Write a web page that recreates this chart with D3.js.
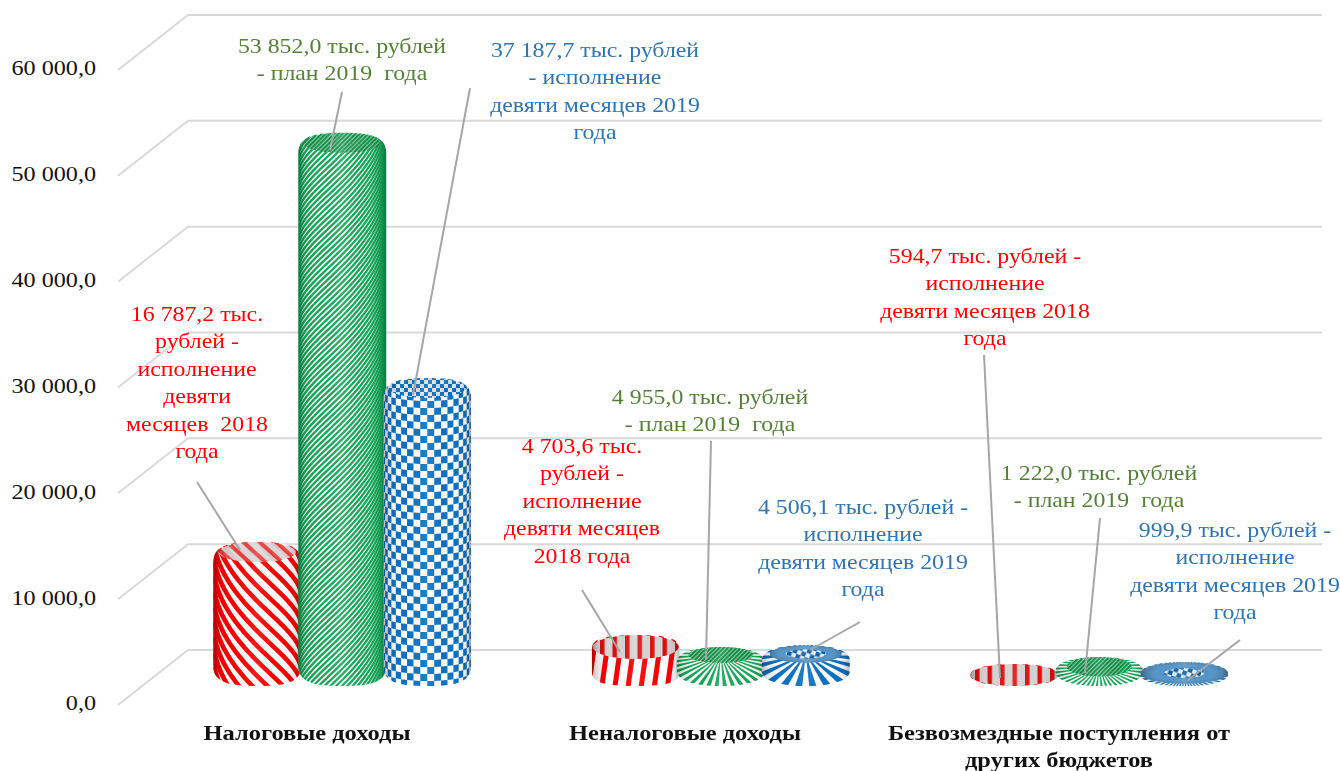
<!DOCTYPE html>
<html><head><meta charset="utf-8"><script src="https://cdn.jsdelivr.net/npm/d3@7"></script>
<style>html,body{margin:0;background:#fff}svg{display:block}text{font-family:"Liberation Serif",serif}</style></head>
<body><svg id="c" width="1340" height="771"></svg>
<script>
const categories=["Налоговые доходы","Неналоговые доходы","Безвозмездные поступления от другие"];
const seriesNames=["2018","plan","2019"];
const values2018=[13600,4820,2080];
const valuesPlan=[52270,3690,2740];
const values2019=[29100,3875,2270];
const tickValues=[0,10000,20000,30000,40000,50000,60000];
const seriesColors=["#ff0000","#14a858","#0b72c4"];
const textColors=["#ff0000","#548235","#2e75b6"];
const annotations=[
 {s:0,c:0,cx:197,y:314,lines:["16 787,2 тыс.","рублей -","исполнение","девяти","месяцев  2018","года"],from:[197,482],to:[240,550]},
 {s:1,c:0,cx:342,y:46,lines:["53 852,0 тыс. рублей","- план 2019  года"],from:[342,92],to:[330,150]},
 {s:2,c:0,cx:595,y:50,lines:["37 187,7 тыс. рублей","- исполнение","девяти месяцев 2019","года"],from:[470,88],to:[413,395]},
 {s:0,c:1,cx:582,y:446,lines:["4 703,6 тыс.","рублей -","исполнение","девяти месяцев","2018 года"],from:[582,590],to:[620,652]},
 {s:1,c:1,cx:710,y:397,lines:["4 955,0 тыс. рублей","- план 2019  года"],from:[711,441],to:[706,660]},
 {s:2,c:1,cx:863,y:507,lines:["4 506,1 тыс. рублей -","исполнение","девяти месяцев 2019","года"],from:[860,622],to:[810,650]},
 {s:0,c:2,cx:985,y:256,lines:["594,7 тыс. рублей -","исполнение","девяти месяцев 2018","года"],from:[984,355],to:[1000,678]},
 {s:1,c:2,cx:1099,y:473,lines:["1 222,0 тыс. рублей","- план 2019  года"],from:[1100,518],to:[1085,673]},
 {s:2,c:2,cx:1235,y:530,lines:["999,9 тыс. рублей -","исполнение","девяти месяцев 2019","года"],from:[1240,640],to:[1188,680]}
];
const categoryLabels=[{x:307,lines:["Налоговые доходы"]},{x:685,lines:["Неналоговые доходы"]},{x:1059,lines:["Безвозмездные поступления от","других бюджетов"]}];

const svg=d3.select("#c"),defs=svg.append("defs");
const SX=1.135;
const y=d3.scaleLinear().domain([0,60000]).range([705,70]);
const depthX=70,depthY=55,baseDrop=19;
const x0=d3.scaleBand().domain(categories).range([153,1288.5]);
const x1=d3.scalePoint().domain(seriesNames).range([-85,85]);
const fmt=d3.formatLocale({decimal:",",thousands:" ",grouping:[3],currency:["",""]}).format(",.1f");

svg.append("g").selectAll("path").data(tickValues).join("path")
 .attr("d",v=>`M118,${y(v)}L${118+depthX},${y(v)-depthY}H1322`)
 .attr("fill","none").attr("stroke","#d9d9d9").attr("stroke-width",2);

const ax=svg.append("g").attr("transform","translate(96,-2)").call(d3.axisLeft(y).tickValues(tickValues).tickSize(0).tickPadding(0).tickFormat(fmt));
ax.select(".domain").remove();
ax.selectAll("text").attr("x",0).attr("dy","0.33em").attr("font-size",21).attr("fill","#111").attr("font-family","Liberation Serif").attr("transform","scale(1.15,1)");

function pat(id,w,h,rot,draw,bg){
 const p=defs.append("pattern").attr("id",id).attr("patternUnits","userSpaceOnUse").attr("width",w).attr("height",h);
 if(rot)p.attr("patternTransform",`rotate(${rot})`);
 p.append("rect").attr("width",w).attr("height",h).attr("fill",bg||"#fff");
 draw(p);
}
const rect=(p,x,y,w,h,f)=>p.append("rect").attr("x",x).attr("y",y).attr("width",w).attr("height",h).attr("fill",f);
pat("d0",13,10,8,p=>rect(p,0,0,5,10,"#ff0000"));
pat("c0",12.5,10,0,p=>rect(p,0,0,4.5,10,"#e01010"),"#d6d6d6");
pat("c1",3,3,45,p=>rect(p,0,0,1.9,3,"#0c8a42"),"#8fd0a8");
pat("c2",9,9,20,p=>{rect(p,0,0,4.5,4.5,"#0b5fa8");rect(p,4.5,4.5,4.5,4.5,"#0b5fa8");},"#e8f0f8");
pat("ct0",11,11,-48,p=>rect(p,0,0,4,11,"#f04040"),"#d9d9d9");
pat("ct2",8,8,0,p=>{rect(p,0,0,4,4,"#0b6ab8");rect(p,4,4,4,4,"#0b6ab8");},"#dfe8f2");

const shade=defs.append("linearGradient").attr("id","shade");
[[0,"#000",.28],[.07,"#000",.1],[.2,"#000",0],[.5,"#fff",.1],[.8,"#000",0],[.93,"#000",.08],[1,"#000",.26]].forEach(s=>shade.append("stop").attr("offset",s[0]).attr("stop-color",s[1]).attr("stop-opacity",s[2]));
const capBlue=defs.append("radialGradient").attr("id","capBlue");
[[0,"#3f8dcf"],[.7,"#5b97c8"],[1,"#4f88b6"]].forEach(s=>capBlue.append("stop").attr("offset",s[0]).attr("stop-color",s[1]));
const bs=defs.append("filter").attr("id","soft").attr("x","-5%").attr("y","-5%").attr("width","110%").attr("height","110%");
bs.append("feGaussianBlur").attr("stdDeviation",.55);

const allValues=[values2018,valuesPlan,values2019];
const baseBottom=y(0)-baseDrop, RX=44;
const gBars=svg.append("g").attr("filter","url(#soft)");
function silhouette(cx,t,b,ry,k){
 const l=cx-RX,r=cx+RX;
 return `M${l},${t+ry}C${l},${t+ry*k} ${cx-RX*.72},${t} ${cx},${t}C${cx+RX*.72},${t} ${r},${t+ry*k} ${r},${t+ry}`+
 `L${r},${b-ry}C${r},${b-ry*k} ${cx+RX*.72},${b} ${cx},${b}C${cx-RX*.72},${b} ${l},${b-ry*k} ${l},${b-ry}Z`;
}
const thetas=d3.range(-Math.PI/2,Math.PI/2+.01,.08);
const helixLine=d3.line();
function helix(g,cx,t,b,spacing,dir,width,color){
 g.selectAll(null).data(d3.range(t-150,b+150,spacing)).join("path")
  .attr("d",y0=>helixLine(thetas.map(th=>[cx+RX*Math.sin(th),y0+dir*RX*th+14*Math.cos(th)])))
  .attr("fill","none").attr("stroke",color).attr("stroke-width",width);
}
function checker(g,cx,t,b,color){
 const dth=7/RX, cols=d3.range(Math.floor(-Math.PI/2/dth),Math.ceil(Math.PI/2/dth));
 const clampTh=v=>Math.max(-Math.PI/2,Math.min(Math.PI/2,v));
 const cells=[];
 cols.forEach(c=>d3.range(Math.floor((t-20)/7),Math.ceil(b/7)).forEach(r=>{if(((c+r)%2+2)%2===0)cells.push([c,r]);}));
 g.selectAll(null).data(cells).join("path").attr("fill",color).attr("d",([c,r])=>{
  const a=clampTh(c*dth),e=clampTh((c+1)*dth),bu=th=>9*Math.cos(th);
  return `M${cx+RX*Math.sin(a)},${r*7+bu(a)}L${cx+RX*Math.sin(e)},${r*7+bu(e)}L${cx+RX*Math.sin(e)},${r*7+7+bu(e)}L${cx+RX*Math.sin(a)},${r*7+7+bu(a)}Z`;
 });
}
function wedges(g,cx,cy,n,color){
 const R=120,dphi=2*Math.PI/n;
 g.selectAll(null).data(d3.range(n)).join("path").attr("fill",color).attr("d",i=>{
  const a=i*dphi+dphi/4,e=a+dphi/2;
  return `M${cx},${cy}L${cx+R*Math.sin(a)},${cy+R*.6*Math.cos(a)}L${cx+R*Math.sin(e)},${cy+R*.6*Math.cos(e)}Z`;
 });
}
categories.forEach((cat,ci)=>{
 seriesNames.forEach((sn,si)=>{
  const cx=x0(cat)+x0.bandwidth()/2+x1(sn);
  const t=y(allValues[si][ci])-baseDrop, b=baseBottom;
  const h=b-t, tall=h>70, pillow=!tall&&si>0||h<30;
  const ry=Math.min(tall?21:15,h/2), k=pillow?.5:.22;
  const id=`clip${ci}${si}`;
  defs.append("clipPath").attr("id",id).append("path").attr("d",silhouette(cx,t,b,ry,k));
  const g=gBars.append("g");
  const inner=g.append("g").attr("clip-path",`url(#${id})`);
  inner.append("rect").attr("x",cx-RX).attr("y",t).attr("width",2*RX).attr("height",h).attr("fill","#fff");
  if(tall){
   if(si===0)helix(inner,cx,t,b,15,1,4.6,seriesColors[0]);
   if(si===1)helix(inner,cx,t,b,5.6,-1,2.3,seriesColors[1]);
   if(si===2)checker(inner,cx,t,b,seriesColors[2]);
   const capRy=10, capFill=si===1?"url(#c1)":`url(#ct${si})`;
   inner.append("ellipse").attr("cx",cx).attr("cy",t+capRy).attr("rx",RX*.88).attr("ry",capRy).attr("fill",capFill).attr("opacity",.92);
  } else if(si===0){
   inner.append("rect").attr("x",cx-RX).attr("y",t).attr("width",2*RX).attr("height",h).attr("fill","url(#d0)");
   const flat=h<30, capRy=flat?ry:12;
   inner.append("ellipse").attr("cx",cx).attr("cy",t+capRy).attr("rx",flat?RX:RX*.98).attr("ry",capRy).attr("fill","url(#c0)");
  } else if(si===1){
   const capRy=h<30?ry*.6:7;
   wedges(inner,cx,t+capRy+1,h<30?44:40,seriesColors[1]);
   inner.append("ellipse").attr("cx",cx).attr("cy",t+capRy+1).attr("rx",RX*.74).attr("ry",capRy+1).attr("fill","url(#c1)");
  } else {
   const flat=h<30;
   wedges(inner,cx,t+(flat?ry:ry*.6),flat?44:24,seriesColors[2]);
   const cy=t+(flat?ry*.92:ry*.6);
   inner.append("ellipse").attr("cx",cx).attr("cy",cy).attr("rx",flat?RX:RX*.82).attr("ry",flat?ry*.9:ry*.58).attr("fill","url(#capBlue)");
   inner.append("ellipse").attr("cx",cx).attr("cy",cy).attr("rx",RX*.46).attr("ry",flat?ry*.4:ry*.3).attr("fill","url(#c2)");
  }
  inner.append("rect").attr("x",cx-RX).attr("y",t).attr("width",2*RX).attr("height",h).attr("fill","url(#shade)");
 });
});

svg.append("g").selectAll("line").data(annotations).join("line")
 .attr("x1",d=>d.from[0]).attr("y1",d=>d.from[1]).attr("x2",d=>d.to[0]).attr("y2",d=>d.to[1])
 .attr("stroke","#a6a6a6").attr("stroke-width",2);

const LH=27.5;
annotations.forEach(a=>{
 const g=svg.append("g").attr("transform",`translate(${a.cx},${a.y+7}) scale(${SX},1)`);
 g.selectAll("text").data(a.lines).join("text").attr("y",(d,i)=>i*LH).attr("text-anchor","middle")
  .attr("font-size",21).attr("fill",textColors[a.s]).style("white-space","pre").text(d=>d);
});
categoryLabels.forEach(c=>{
 const g=svg.append("g").attr("transform",`translate(${c.x},740) scale(1.165,1)`);
 g.selectAll("text").data(c.lines).join("text").attr("y",(d,i)=>i*27).attr("text-anchor","middle")
  .attr("font-size",21).attr("font-weight","bold").attr("fill","#111").text(d=>d);
});
</script></body></html>
